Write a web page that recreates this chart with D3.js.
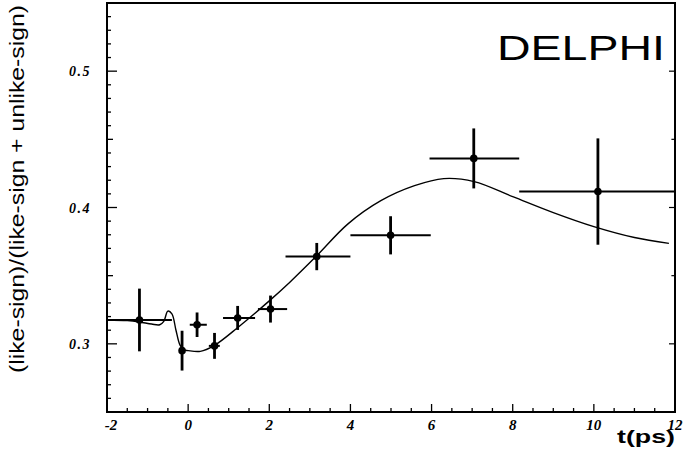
<!DOCTYPE html>
<html>
<head>
<meta charset="utf-8">
<script src="https://cdn.jsdelivr.net/npm/d3@7"></script>
<style>
  body { margin: 0; background: #fff; }
  svg { display: block; }
</style>
</head>
<body>
<svg width="683" height="455"></svg>
<script>
// measured points: time bin centre, ratio, bin edges, vertical error
const pointT = [-1.2, -0.15, 0.22, 0.65, 1.22, 2.03, 3.17, 4.99, 7.04, 10.1];
const pointY = [0.3175, 0.295, 0.314, 0.2985, 0.319, 0.3255, 0.364, 0.3796, 0.436, 0.4117];
const binLo = [-2.0, -0.15, 0.04, 0.51, 0.86, 1.72, 2.4, 4.0, 5.95, 8.16];
const binHi = [-0.4, -0.15, 0.46, 0.78, 1.65, 2.44, 4.0, 5.98, 8.16, 12.0];
const errY = [0.023, 0.0146, 0.009, 0.0095, 0.0088, 0.0099, 0.010, 0.014, 0.022, 0.039];

// fitted curve
const fitT = [-2.0, -1.5, -1.2, -0.9, -0.7, -0.6, -0.5, -0.4, -0.3, -0.2, -0.1, 0.0, 0.3, 0.63, 1.24, 2.0, 2.5, 3.15, 3.94, 4.75, 5.58, 6.3, 7.05, 8.0, 9.0, 10.0, 11.0, 11.85];
const fitY = [0.3175, 0.317, 0.316, 0.3145, 0.314, 0.3165, 0.324, 0.322, 0.31, 0.299, 0.2955, 0.295, 0.2945, 0.2985, 0.3124, 0.3315, 0.345, 0.364, 0.388, 0.405, 0.416, 0.4212, 0.419, 0.408, 0.3963, 0.386, 0.378, 0.3737];

const xTickLabels = ["-2", "0", "2", "4", "6", "8", "10", "12"];
const yTickLabels = ["0.3", "0.4", "0.5"];

const svg = d3.select("svg");
const plotLeft = 107, plotRight = 675, plotTop = 3, plotBottom = 412;

const x = d3.scaleLinear().domain([-2, 12]).range([plotLeft, plotRight]);
const y = d3.scaleLinear().domain([0.25, 0.55]).range([plotBottom, plotTop]);

// frame
svg.append("rect")
    .attr("x", plotLeft).attr("y", plotTop)
    .attr("width", plotRight - plotLeft).attr("height", plotBottom - plotTop)
    .attr("fill", "none").attr("stroke", "#000").attr("stroke-width", 2);

// x ticks, pointing inward
const xMinor = d3.range(-2, 12.01, 0.5);
svg.append("g").selectAll("line")
    .data(xMinor)
    .enter().append("line")
    .attr("x1", d => x(d)).attr("x2", d => x(d))
    .attr("y1", plotBottom)
    .attr("y2", d => plotBottom - (Math.abs(d % 2) < 1e-6 ? 8 : 4))
    .attr("stroke", "#000").attr("stroke-width", 1.3);

// y ticks, pointing inward on left and right
const yMinor = d3.range(0.25, 0.5501, 0.01);
function yTickLen(d) {
    const k = Math.round(d * 100);
    if (k % 10 === 0) return 10;
    if (k % 5 === 0) return 6;
    return 4;
}
svg.append("g").selectAll("line")
    .data(yMinor)
    .enter().append("line")
    .attr("x1", plotLeft).attr("x2", d => plotLeft + yTickLen(d))
    .attr("y1", d => y(d)).attr("y2", d => y(d))
    .attr("stroke", "#000").attr("stroke-width", 1.3);
svg.append("g").selectAll("line")
    .data(yMinor.filter(d => Math.round(d * 100) % 5 === 0))
    .enter().append("line")
    .attr("x1", plotRight).attr("x2", d => plotRight - yTickLen(d) * 0.6)
    .attr("y1", d => y(d)).attr("y2", d => y(d))
    .attr("stroke", "#000").attr("stroke-width", 1.2);

// tick labels
svg.append("g").selectAll("text")
    .data(xTickLabels)
    .enter().append("text")
    .attr("x", d => x(+d) + (d === "-2" ? 4 : 0))
    .attr("y", 430)
    .attr("text-anchor", "middle")
    .attr("font-family", "Liberation Serif, serif")
    .attr("font-style", "italic").attr("font-weight", "bold")
    .attr("font-size", 15)
    .text(d => d);

svg.append("g").selectAll("text")
    .data(yTickLabels)
    .enter().append("text")
    .attr("x", 91)
    .attr("y", d => y(+d) + 5)
    .attr("text-anchor", "end")
    .attr("font-family", "Liberation Serif, serif")
    .attr("font-style", "italic").attr("font-weight", "bold")
    .attr("font-size", 14)
    .attr("letter-spacing", 1.5)
    .text(d => d);

// axis titles
svg.append("text")
    .attr("transform", "translate(24,189) rotate(-90)")
    .attr("text-anchor", "middle")
    .attr("font-family", "Liberation Sans, Arial, sans-serif")
    .attr("font-size", 21)
    .attr("textLength", 368).attr("lengthAdjust", "spacingAndGlyphs")
    .text("(like-sign)/(like-sign + unlike-sign)");

svg.append("text")
    .attr("x", 617).attr("y", 443)
    .attr("font-family", "Liberation Sans, Arial, sans-serif")
    .attr("font-weight", "bold")
    .attr("font-size", 18)
    .attr("textLength", 58).attr("lengthAdjust", "spacingAndGlyphs")
    .text("t(ps)");

svg.append("text")
    .attr("x", 497).attr("y", 60)
    .attr("font-family", "Liberation Sans, Arial, sans-serif")
    .attr("font-size", 35)
    .attr("textLength", 168).attr("lengthAdjust", "spacingAndGlyphs")
    .text("DELPHI");

// fit curve
const line = d3.line()
    .x(d => x(d[0]))
    .y(d => y(d[1]))
    .curve(d3.curveCatmullRom);

svg.append("path")
    .datum(fitT.map((t, i) => [t, fitY[i]]))
    .attr("d", line)
    .attr("fill", "none").attr("stroke", "#000").attr("stroke-width", 1.4);

// data points with error bars
const pts = pointT.map((t, i) => ({ t: t, v: pointY[i], lo: binLo[i], hi: binHi[i], e: errY[i] }));

const g = svg.append("g").selectAll("g")
    .data(pts)
    .enter().append("g");

g.append("line")
    .attr("x1", d => x(d.lo)).attr("x2", d => x(d.hi))
    .attr("y1", d => y(d.v)).attr("y2", d => y(d.v))
    .attr("stroke", "#000").attr("stroke-width", 2);

g.append("line")
    .attr("x1", d => x(d.t)).attr("x2", d => x(d.t))
    .attr("y1", d => y(d.v - d.e)).attr("y2", d => y(d.v + d.e))
    .attr("stroke", "#000").attr("stroke-width", 2.8);

g.append("circle")
    .attr("cx", d => x(d.t)).attr("cy", d => y(d.v))
    .attr("r", 3.8)
    .attr("fill", "#000");
</script>
</body>
</html>
